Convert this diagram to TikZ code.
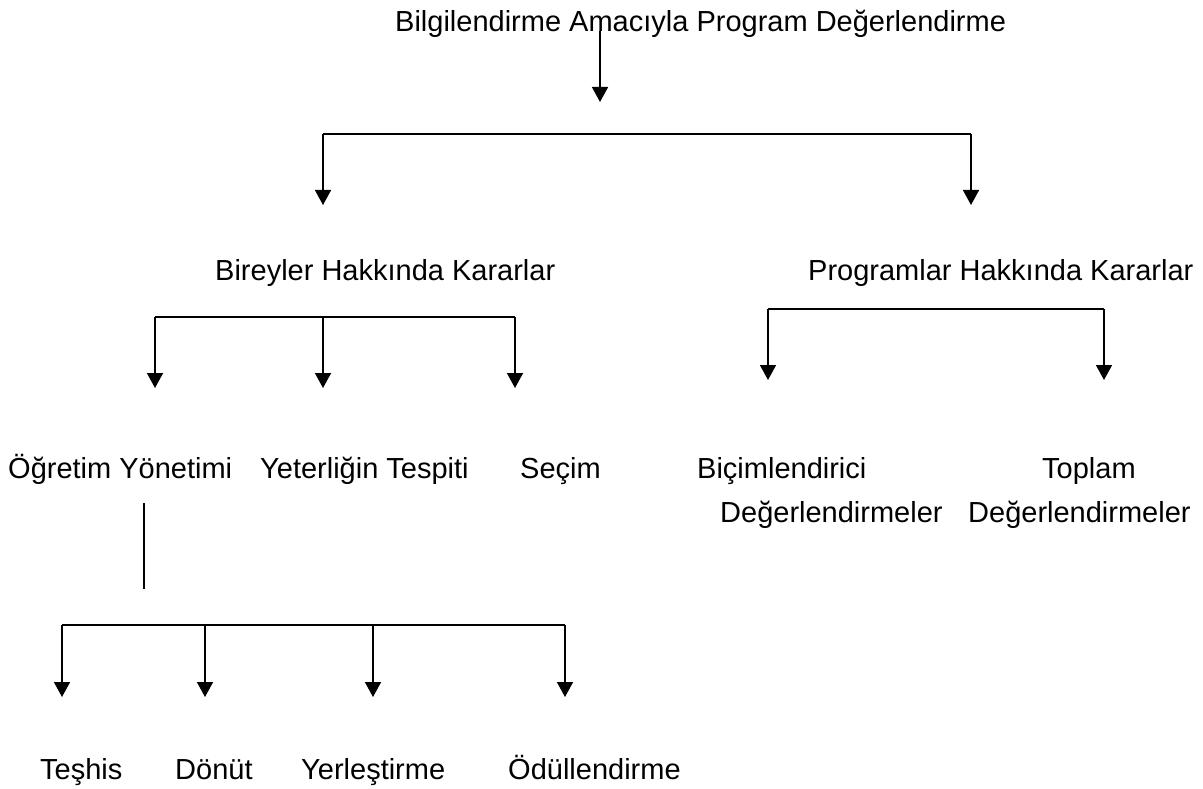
\documentclass[tikz,border=0pt]{standalone}
\usepackage{fontspec}
\setmainfont{Liberation Sans}
\usetikzlibrary{arrows.meta}
\tikzset{
  lbl/.style={anchor=base west, inner sep=0pt, font=\fontsize{29}{34}\selectfont},
  conn/.style={line width=1.6pt},
  arr/.style={conn, -{Triangle[length=15pt,width=16pt]}}
}
\begin{document}
\begin{tikzpicture}[x=1pt,y=-1pt]
\useasboundingbox (0,0) rectangle (1203,789);
% text nodes
\node[lbl] (title) at (395,32) {Bilgilendirme Amacıyla Program Değerlendirme};
\node[lbl] (bir) at (215,280) {Bireyler Hakkında Kararlar};
\node[lbl] (prg) at (808,280) {Programlar Hakkında Kararlar};
\node[lbl] (ogr) at (8,478) {Öğretim Yönetimi};
\node[lbl] (yet) at (260,478) {Yeterliğin Tespiti};
\node[lbl] (sec) at (520,478) {Seçim};
\node[lbl] (bic) at (697,478) {Biçimlendirici};
\node[lbl] (bicb) at (720,522) {Değerlendirmeler};
\node[lbl] (top) at (1042,478) {Toplam};
\node[lbl] (topb) at (968,522) {Değerlendirmeler};
\node[lbl] (tes) at (40,779) {Teşhis};
\node[lbl] (don) at (175,779) {Dönüt};
\node[lbl] (yer) at (301,779) {Yerleştirme};
\node[lbl] (odu) at (508,779) {Ödüllendirme};
% coordinates
\coordinate (s0) at (600,31);
\coordinate (e0) at (600,102);
\coordinate (h1l) at (323,134);
\coordinate (h1r) at (971,134);
\coordinate (a1l) at (323,205);
\coordinate (a1r) at (971,205);
\coordinate (h2l) at (155,317);
\coordinate (h2m) at (323,317);
\coordinate (h2r) at (515,317);
\coordinate (a2l) at (155,388);
\coordinate (a2m) at (323,388);
\coordinate (a2r) at (515,388);
\coordinate (h3l) at (768,309);
\coordinate (h3r) at (1104,309);
\coordinate (a3l) at (768,380);
\coordinate (a3r) at (1104,380);
\coordinate (v1) at (144,503);
\coordinate (v2) at (144,589);
\coordinate (h4a) at (62,625);
\coordinate (h4b) at (205,625);
\coordinate (h4c) at (373,625);
\coordinate (h4d) at (565,625);
\coordinate (a4a) at (62,697);
\coordinate (a4b) at (205,697);
\coordinate (a4c) at (373,697);
\coordinate (a4d) at (565,697);
% connectors
\draw[arr] (s0) -- (e0);
\draw[conn] (h1l) -- (h1r);
\draw[arr] (h1l) -- (a1l);
\draw[arr] (h1r) -- (a1r);
\draw[conn] (h2l) -- (h2r);
\draw[arr] (h2l) -- (a2l);
\draw[arr] (h2m) -- (a2m);
\draw[arr] (h2r) -- (a2r);
\draw[conn] (h3l) -- (h3r);
\draw[arr] (h3l) -- (a3l);
\draw[arr] (h3r) -- (a3r);
\draw[conn] (v1) -- (v2);
\draw[conn] (h4a) -- (h4d);
\draw[arr] (h4a) -- (a4a);
\draw[arr] (h4b) -- (a4b);
\draw[arr] (h4c) -- (a4c);
\draw[arr] (h4d) -- (a4d);
\end{tikzpicture}
\end{document}
